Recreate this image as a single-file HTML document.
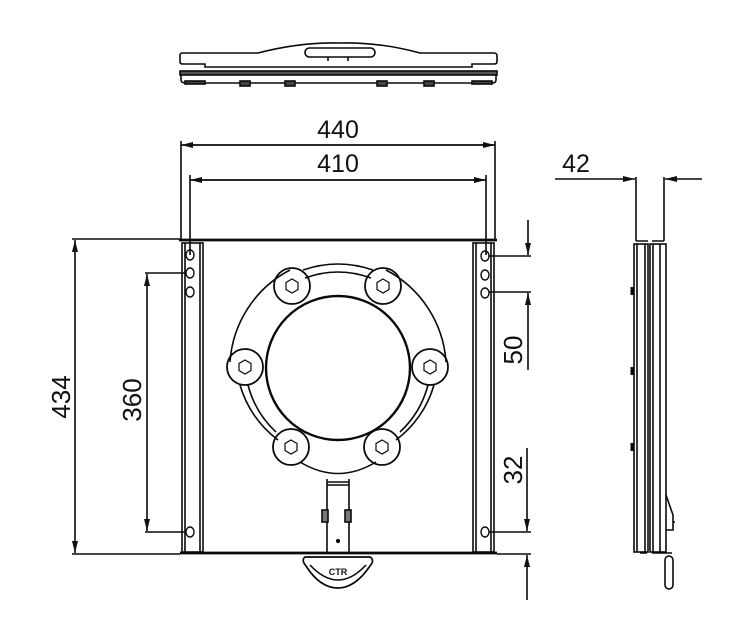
<!DOCTYPE html>
<html><head><meta charset="utf-8"><style>body{margin:0;background:#fff}svg{display:block}text{font-family:"Liberation Sans",sans-serif;fill:#111}</style></head><body>
<svg width="739" height="638" viewBox="0 0 739 638" xmlns="http://www.w3.org/2000/svg">
<defs><marker id="a" markerWidth="12" markerHeight="6" refX="12" refY="3" orient="auto" markerUnits="userSpaceOnUse"><path d="M0,0L12,3L0,6z" fill="#111"/></marker></defs>
<g fill="none" stroke="#0a0a0a" stroke-width="1.6">
<!-- top view -->
<path d="M182,53 H258 Q300,42 340,43 Q380,42 420,53 H494 Q497,53 497,56 V62 Q497,64 494,64 H472 V67 H205 V64 H183 Q180,64 180,62 V56 Q180,53 182,53Z"/>
<rect x="305" y="48" width="70" height="9" rx="4.5"/>
<path d="M328,57v4M348,57v4"/>
<rect x="180" y="71" width="317" height="4" fill="#555"/>
<path d="M181,75 V80 Q181,83 186,83 H492 Q496,83 496,80 V75"/>
<g fill="#444"><rect x="240" y="81" width="10" height="5"/><rect x="285" y="81" width="10" height="5"/><rect x="377" y="81" width="10" height="5"/><rect x="424" y="81" width="10" height="5"/><rect x="185" y="81" width="20" height="3"/><rect x="472" y="81" width="20" height="3"/></g>
<!-- front dims -->
<path d="M181,141 V240 M495,141 V240 M190,175 V255 M486,175 V255"/>
<path d="M181,145 H495" marker-end="url(#a)"/><path d="M495,145 H181" marker-end="url(#a)"/>
<path d="M190,180 H486" marker-end="url(#a)"/><path d="M486,180 H190" marker-end="url(#a)"/>
<path d="M179,240 H497" stroke-width="2.8"/>
<path d="M180,553 H497" stroke-width="2.8"/>
<!-- rails -->
<rect x="182" y="243" width="21" height="309"/><path d="M185,243 V552 M200,243 V552"/>
<rect x="473" y="243" width="21" height="309"/><path d="M476,243 V552 M491,243 V552"/>
<g stroke-width="1.4"><ellipse cx="190" cy="255" rx="4" ry="5"/><ellipse cx="190" cy="273" rx="4" ry="5"/><ellipse cx="190" cy="292" rx="4" ry="5"/><ellipse cx="190" cy="532" rx="4" ry="5"/>
<ellipse cx="485" cy="256" rx="4" ry="5"/><ellipse cx="485" cy="275" rx="4" ry="5"/><ellipse cx="485" cy="293" rx="4" ry="5"/><ellipse cx="485" cy="532" rx="4" ry="5"/></g>
<!-- left dims -->
<path d="M72,239 H180 M72,554 H180 M145,273 H186 M145,532 H186"/>
<path d="M75,396 V240" marker-end="url(#a)"/><path d="M75,396 V553" marker-end="url(#a)"/>
<path d="M147,400 V274" marker-end="url(#a)"/><path d="M147,400 V531" marker-end="url(#a)"/>
<!-- right dims -->
<path d="M489,256 H531 M489,292 H531 M489,532 H531 M497,554 H531"/>
<path d="M528,220 V255" marker-end="url(#a)"/><path d="M528,370 V293" marker-end="url(#a)"/>
<path d="M527,448 V531" marker-end="url(#a)"/><path d="M527,600 V555" marker-end="url(#a)"/>
<!-- ring -->
<path d="M230,362 A112,112 0 0 1 290,270 M386,270 A112,112 0 0 1 446,362 M240,385 A105,105 0 0 0 278,440 M434,385 A105,105 0 0 1 396,440 M300,462 Q338,485 376,462 M303,270 Q338,258 373,270"/>
<path d="M248,385 A98,98 0 0 0 276,432 M428,385 A98,98 0 0 1 400,432 M305,278 Q338,266 371,278"/>
<circle cx="338" cy="368" r="72" stroke-width="2.4"/>
<g stroke-width="1.8"><circle cx="292" cy="286" r="18"/><circle cx="383" cy="286" r="18"/><circle cx="245" cy="367" r="18"/><circle cx="430" cy="367" r="18"/><circle cx="291" cy="447" r="18"/><circle cx="382" cy="447" r="18"/></g>
<g stroke-width="1.2"><path d="M292,279l6,3.5v7l-6,3.5l-6,-3.5v-7z"/><path d="M383,279l6,3.5v7l-6,3.5l-6,-3.5v-7z"/><path d="M245,360l6,3.5v7l-6,3.5l-6,-3.5v-7z"/><path d="M430,360l6,3.5v7l-6,3.5l-6,-3.5v-7z"/><path d="M291,440l6,3.5v7l-6,3.5l-6,-3.5v-7z"/><path d="M382,440l6,3.5v7l-6,3.5l-6,-3.5v-7z"/></g>
<!-- stem -->
<path d="M327,479 V553 M349,479 V553 M327,482 H349 M327,485 H349"/>
<rect x="322" y="510" width="6" height="12" fill="#777"/><rect x="345" y="510" width="6" height="12" fill="#777"/>
<circle cx="338" cy="541" r="1.3" fill="#111"/>
<path d="M305,557 H370 Q375,560 370,566 Q355,588 338,588 Q320,588 306,566 Q301,560 305,557Z" stroke-width="1.7"/>
<path d="M310,565 Q338,595 366,565"/>
<!-- side view -->
<path d="M636,177 V241 M664,177 V241 M636,241 H648 M652,241 H664"/>
<path d="M555,179 H635" marker-end="url(#a)"/><path d="M702,179 H665" marker-end="url(#a)"/>
<rect x="634" y="244" width="14" height="308"/><path d="M637,244 V552 M645,244 V552"/>
<rect x="650" y="244" width="16" height="308"/><path d="M653,244 V552 M660,244 V552"/>
<path d="M666,495 L673,515 V530 H666 M673,522 H675" /><path d="M632,287v8M632,367v8M632,443v8" stroke-width="3"/>
<path d="M640,553 H647 M652,553 H672"/>
<rect x="665" y="556" width="8" height="33" rx="4"/>
</g>
<text x="338" y="138" font-size="25" text-anchor="middle">440</text>
<text x="338" y="172" font-size="25" text-anchor="middle">410</text>
<text x="576" y="172" font-size="25" text-anchor="middle">42</text>
<text transform="translate(70,397) rotate(-90)" font-size="26" text-anchor="middle">434</text>
<text transform="translate(141,400) rotate(-90)" font-size="26" text-anchor="middle">360</text>
<text transform="translate(522,350) rotate(-90)" font-size="26" text-anchor="middle">50</text>
<text transform="translate(522,470) rotate(-90)" font-size="26" text-anchor="middle">32</text>
<text x="338" y="575" font-size="9" font-weight="bold" text-anchor="middle">CTR</text>
</svg>
</body></html>
